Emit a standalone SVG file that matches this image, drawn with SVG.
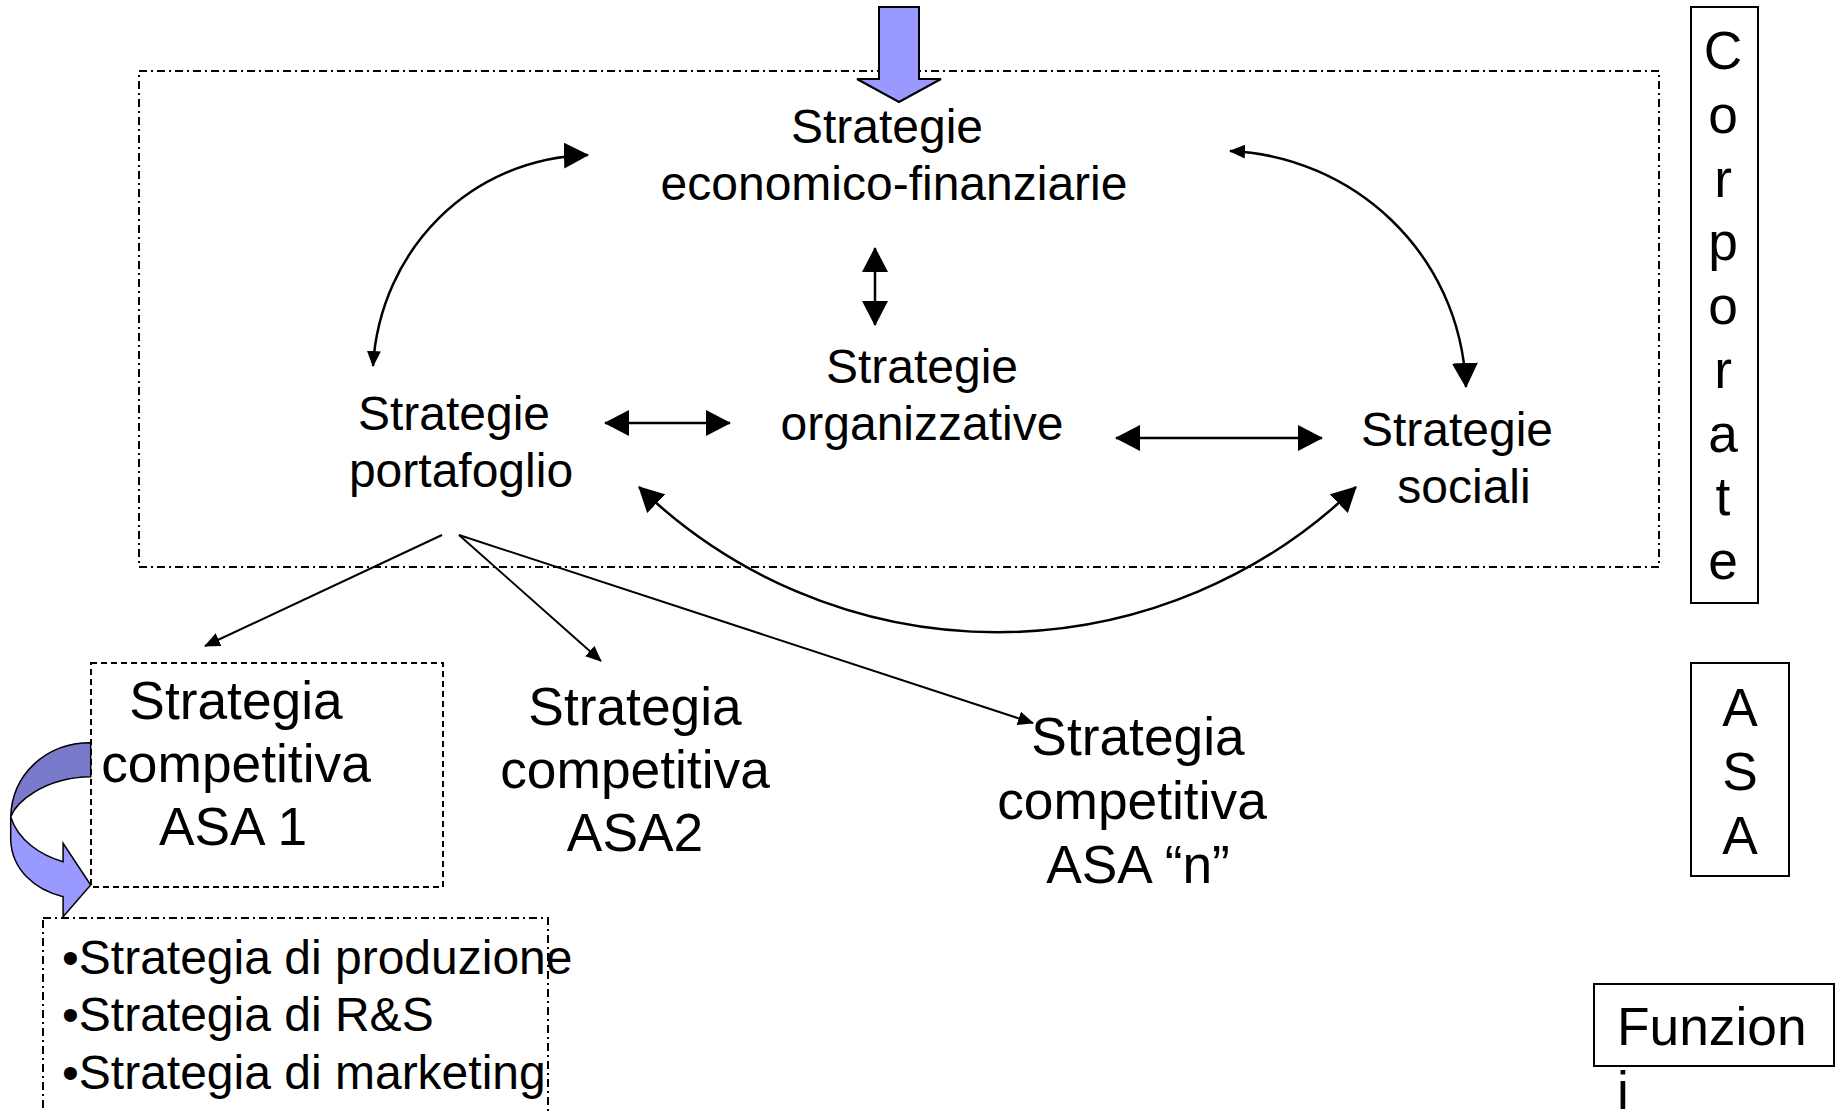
<svg xmlns="http://www.w3.org/2000/svg" width="1841" height="1111" viewBox="0 0 1841 1111">
<style>
text{font-family:"Liberation Sans",Arial,sans-serif;fill:#000}
.t48{font-size:48px}
.t53{font-size:53.3px}
.mid{text-anchor:middle}
.box{fill:none;stroke:#000;stroke-width:2}
.dashdot{fill:none;stroke:#000;stroke-width:2;stroke-dasharray:8 4 2 4}
.dash{fill:none;stroke:#000;stroke-width:2;stroke-dasharray:6 4}
.conn{fill:none;stroke:#000;stroke-width:2.5}
.thin{fill:none;stroke:#000;stroke-width:2}
.blue{fill:#9999FF;stroke:#000;stroke-width:2;stroke-linejoin:miter}
</style>
<defs>
<marker id="big" viewBox="0 0 25 26" refX="24" refY="13" markerWidth="25" markerHeight="26" markerUnits="userSpaceOnUse" orient="auto-start-reverse"><path d="M0,0 L25,13 L0,26 Z" fill="#000"/></marker>
<marker id="small" viewBox="0 0 16 14" refX="15" refY="7" markerWidth="16" markerHeight="14" markerUnits="userSpaceOnUse" orient="auto-start-reverse"><path d="M0,0 L16,7 L0,14 Z" fill="#000"/></marker>
</defs>
<rect fill="#fff" x="0" y="0" width="1841" height="1111"/>

<g id="corporate-frame"><rect class="dashdot" x="139" y="71" width="1520" height="496"/></g>

<g id="input-arrow"><path class="blue" d="M879,7 L919,7 L919,79 L941,79 L899,102 L857,79 L879,79 Z"/></g>

<g id="connectors">
<path class="conn" d="M373,366 C380,250 470,158 588,155" marker-start="url(#small)" marker-end="url(#big)"/>
<path class="conn" d="M1230,151 C1350,156 1460,250 1466,387" marker-start="url(#small)" marker-end="url(#big)"/>
<path class="conn" d="M639,487 A515,515 0 0 0 1356,487" marker-start="url(#big)" marker-end="url(#big)"/>
<path class="conn" d="M875,248 L875,325" marker-start="url(#big)" marker-end="url(#big)"/>
<path class="conn" d="M605,423 L730,423" marker-start="url(#big)" marker-end="url(#big)"/>
<path class="conn" d="M1116,438 L1322,438" marker-start="url(#big)" marker-end="url(#big)"/>
<path class="thin" d="M442,535 L205,646" marker-end="url(#small)"/>
<path class="thin" d="M459,535 L601,661" marker-end="url(#small)"/>
<path class="thin" d="M459,535 L1033,723" marker-end="url(#small)"/>
</g>

<g id="node-economico">
<text class="t48 mid" x="887" y="143">Strategie</text>
<text class="t48 mid" x="894" y="200">economico-finanziarie</text>
</g>
<g id="node-portafoglio">
<text class="t48 mid" x="454" y="430">Strategie</text>
<text class="t48 mid" x="461" y="487">portafoglio</text>
</g>
<g id="node-organizzative">
<text class="t48 mid" x="922" y="383">Strategie</text>
<text class="t48 mid" x="922" y="440">organizzative</text>
</g>
<g id="node-sociali">
<text class="t48 mid" x="1457" y="446">Strategie</text>
<text class="t48 mid" x="1464" y="503">sociali</text>
</g>

<g id="node-asa1">
<rect class="dash" x="91" y="663" width="352" height="224"/>
<text class="t53 mid" x="236" y="719">Strategia</text>
<text class="t53 mid" x="236" y="782">competitiva</text>
<text class="t53 mid" x="233" y="845">ASA 1</text>
</g>
<g id="node-asa2">
<text class="t53 mid" x="635" y="725">Strategia</text>
<text class="t53 mid" x="635" y="788">competitiva</text>
<text class="t53 mid" x="635" y="851">ASA2</text>
</g>
<g id="node-asan">
<text class="t53 mid" x="1138" y="755">Strategia</text>
<text class="t53 mid" x="1132" y="819">competitiva</text>
<text class="t53 mid" x="1138" y="883">ASA “n”</text>
</g>

<g id="curved-arrow">
<path d="M90.7,742.7 C45,742.7 12,775 10.7,817 C16,802 44,777.5 90.7,776.7 Z" fill="#7A7ACC" stroke="#000" stroke-width="1.5"/>
<path d="M10.7,817 L10.7,840 C12,870 35,890 63.1,896.7 L63.1,916.7 L90.7,885 L63.1,843.3 L63.1,861.7 C40,855 18,840 10.7,817 Z" fill="#9999FF" stroke="#000" stroke-width="1.5"/>
</g>

<g id="node-funzioni-list">
<rect class="dashdot" x="43" y="918" width="505" height="220"/>
<text class="t48" x="62" y="974">•Strategia di produzione</text>
<text class="t48" x="62" y="1031">•Strategia di R&amp;S</text>
<text class="t48" x="62" y="1089">•Strategia di marketing</text>
</g>

<g id="label-corporate">
<rect class="box" x="1691" y="7" width="67" height="596"/>
<text class="t53 mid" x="1723" y="69">C</text>
<text class="t53 mid" x="1723" y="133">o</text>
<text class="t53 mid" x="1723" y="197">r</text>
<text class="t53 mid" x="1723" y="260">p</text>
<text class="t53 mid" x="1723" y="324">o</text>
<text class="t53 mid" x="1723" y="388">r</text>
<text class="t53 mid" x="1723" y="452">a</text>
<text class="t53 mid" x="1723" y="515">t</text>
<text class="t53 mid" x="1723" y="579">e</text>
</g>
<g id="label-asa">
<rect class="box" x="1691" y="663" width="98" height="213"/>
<text class="t53 mid" x="1740" y="726">A</text>
<text class="t53 mid" x="1740" y="790">S</text>
<text class="t53 mid" x="1740" y="854">A</text>
</g>
<g id="label-funzioni">
<rect class="box" x="1594" y="984" width="240" height="82"/>
<text class="t53" x="1617" y="1045">Funzion</text>
<text class="t53" x="1617" y="1109">i</text>
</g>
</svg>
